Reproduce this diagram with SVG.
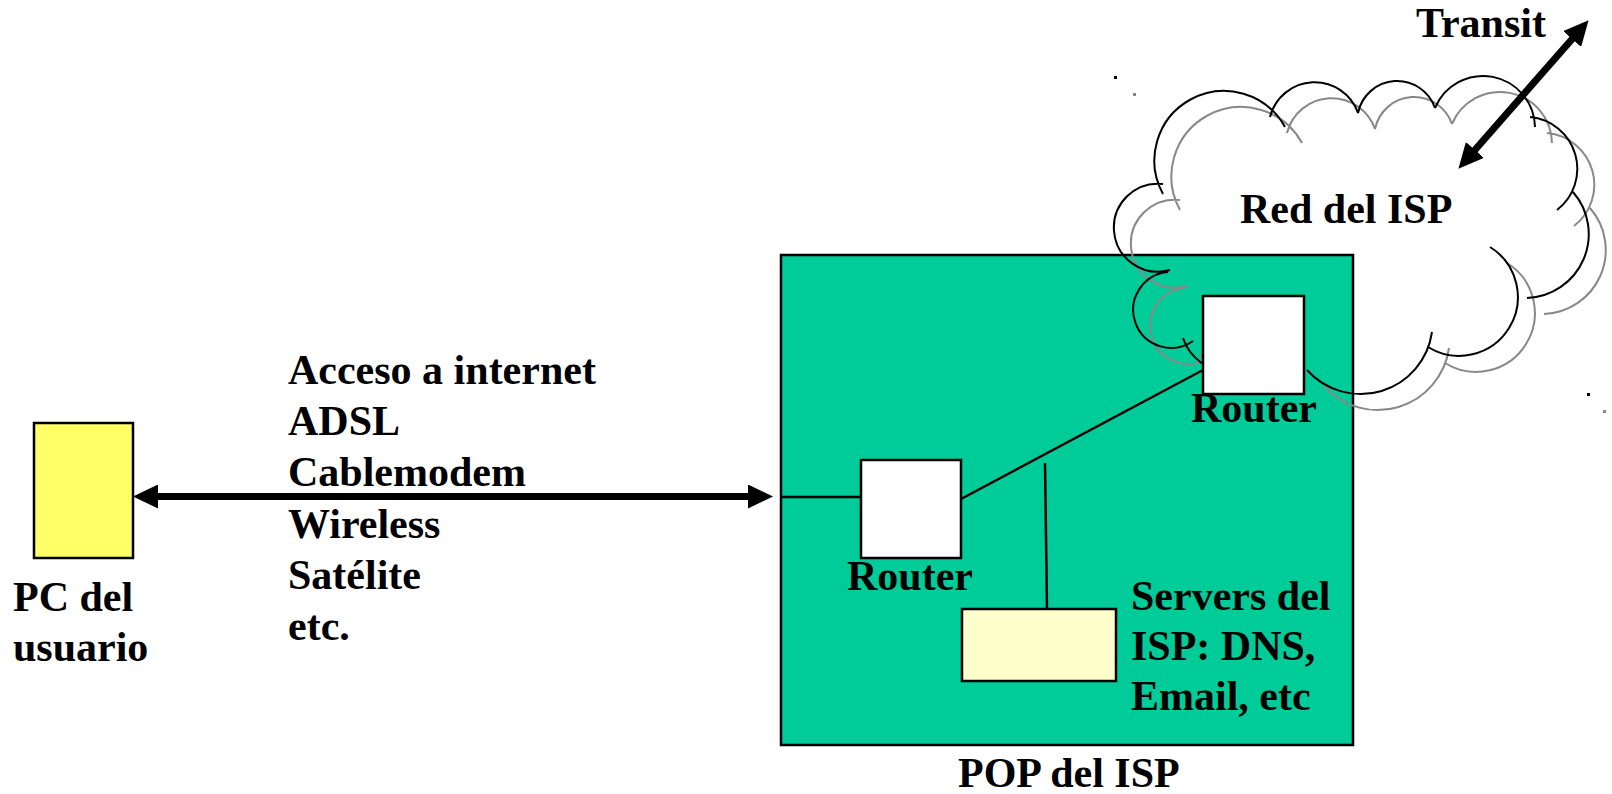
<svg xmlns="http://www.w3.org/2000/svg" width="1612" height="794" viewBox="0 0 1612 794">
<style>
text{font-family:"Liberation Serif","Times New Roman",serif;font-weight:bold;font-size:42px;fill:#000}
.box{stroke:#000;stroke-width:2.5}
.ln{stroke:#000;stroke-width:2.5;fill:none}
.cloud{fill:none;stroke-width:2}
.thick{stroke:#000;stroke-width:7;fill:none}
</style>
<defs>
<marker id="ah" markerUnits="userSpaceOnUse" markerWidth="26" markerHeight="24" viewBox="0 0 26 24" refX="12" refY="12" orient="auto-start-reverse">
<path d="M0,0 L25,12 L0,24 z" fill="#000"/>
</marker>
<path id="cloudpath" d="M1163,194 A68,68 0 0 1 1285,127 M1270,117 A46,46 0 0 1 1358,113 M1358,113 A40,40 0 0 1 1435,108 M1435,108 A52,52 0 0 1 1535,127 M1530,117 A52,52 0 0 1 1557,210 M1573,192 A64,64 0 0 1 1527,298 M1490,247 A58,58 0 1 1 1428,347 M1432,332 A72,72 0 0 1 1307,370 M1230,372 A50,50 0 0 1 1183,338 M1170,270 A44,44 0 1 1 1163,184 M1193,341 A38,38 0 1 1 1168,272"/>
</defs>
<g id="pop">
<rect x="781" y="255" width="572" height="490" fill="#00CC99" class="box"/>
<text x="958" y="787">POP del ISP</text>
</g>
<g id="cloud">
<use href="#cloudpath" class="cloud" stroke="#888" transform="translate(17,16)"/>
<use href="#cloudpath" class="cloud" stroke="#000"/>
<rect x="1114" y="76" width="3" height="3" fill="#000"/>
<rect x="1133" y="93" width="3" height="3" fill="#888"/>
<rect x="1587" y="393" width="3" height="3" fill="#000"/>
<rect x="1603" y="410" width="3" height="3" fill="#888"/>
<text x="1240" y="223">Red del ISP</text>
</g>
<g id="connectors">
<line class="thick" x1="146" y1="496.5" x2="760" y2="496.5" marker-start="url(#ah)" marker-end="url(#ah)"/>
<line class="thick" x1="1467" y1="159" x2="1580" y2="30" marker-start="url(#ah)" marker-end="url(#ah)"/>
<line class="ln" x1="781" y1="497" x2="861" y2="497"/>
<line class="ln" x1="961" y1="499" x2="1203" y2="370"/>
<line class="ln" x1="1045" y1="463" x2="1047" y2="609"/>
</g>
<g id="pc">
<rect x="34" y="423" width="99" height="135" fill="#FFFF66" class="box"/>
<text x="13" y="611">PC del</text>
<text x="13" y="661">usuario</text>
</g>
<g id="access-label">
<text x="288" y="384">Acceso a internet</text>
<text x="288" y="435">ADSL</text>
<text x="288" y="486">Cablemodem</text>
<text x="288" y="538">Wireless</text>
<text x="288" y="589">Satélite</text>
<text x="288" y="640">etc.</text>
</g>
<g id="router1">
<rect x="861" y="460" width="100" height="98" fill="#fff" class="box"/>
<text x="910" y="590" text-anchor="middle">Router</text>
</g>
<g id="router2">
<rect x="1203" y="296" width="101" height="98" fill="#fff" class="box"/>
<text x="1254" y="422" text-anchor="middle">Router</text>
</g>
<g id="servers">
<rect x="962" y="609" width="154" height="72" fill="#FFFFCC" class="box"/>
<text x="1131" y="610">Servers del</text>
<text x="1131" y="660">ISP: DNS,</text>
<text x="1131" y="710">Email, etc</text>
</g>
<g id="transit">
<text x="1416" y="37">Transit</text>
</g>
</svg>
